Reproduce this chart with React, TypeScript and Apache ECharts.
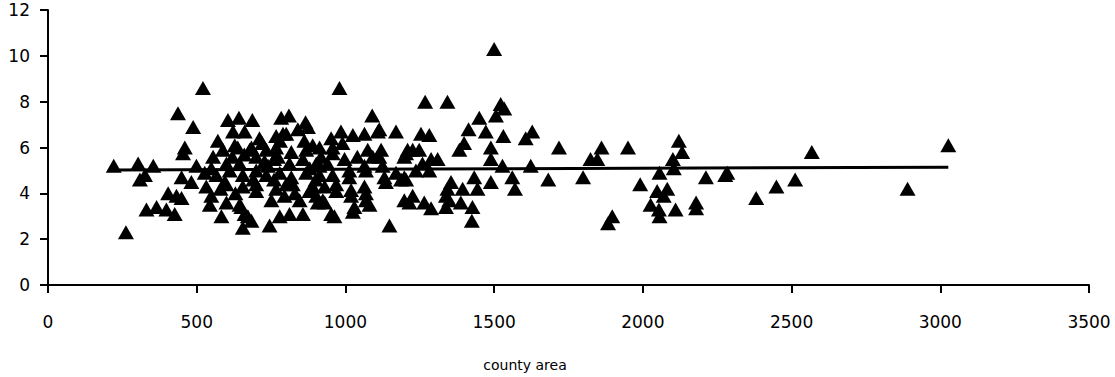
import React, { useEffect, useRef } from "react";
import * as echarts from "echarts";

// county area (x) values
const areaValues: number[] = [
  221, 262, 303, 309, 326, 354, 331, 365, 398, 426, 404, 432, 449, 437, 488, 460, 454, 449, 482, 499,
  521, 980, 605, 642, 687, 784, 810, 866, 874, 571, 622, 661, 711, 767, 801, 862, 913, 952, 985,
  555, 588, 628, 678, 734, 767, 818, 868, 918, 957, 997,
  527, 566, 611, 655, 700, 734, 779, 818, 868, 913, 957,
  532, 600, 655, 700, 767, 823, 879, 930, 969,
  549, 600, 650, 751, 795, 846, 930,
  544, 583, 661, 684, 655, 745, 779, 812, 857, 952, 963,
  638, 684, 790, 890, 549, 600, 644, 728, 773, 812, 857, 902, 594, 700, 801, 890, 644, 907, 672,
  1025, 1064, 1109, 1170, 1254, 1282, 957, 1075, 1114, 1204, 1259, 913, 1013, 1064, 1131, 1187,
  969, 1019, 1069, 902, 924, 1030, 1081, 1198, 1226, 1265, 1288, 1148,
  1090, 1114, 1092, 1120, 1198, 1226, 1013, 1069, 1125, 1170, 1204, 1064, 1136, 1019, 1069, 1215, 1025,
  1268, 1343, 1522, 1534, 1506, 1450, 1414, 1472, 1531, 1606, 1628, 1718, 1861, 1824, 1847,
  1399, 1383, 1489, 1489, 1528, 1623, 1561, 1570, 1682, 1799, 1355, 1343, 1394, 1433, 1444, 1489,
  1338, 1388, 1427, 1425, 1209, 1248, 1288, 1198, 1237, 1282, 1310, 1349, 1338, 1500,
  1950, 2121, 2132, 2101, 2104, 2056, 2212, 2277, 2284, 1991, 2048, 2082, 2070, 2026, 2054, 2056,
  2110, 2179, 2179, 1897, 1883, 2381, 2449, 2512, 2568, 2890, 3027,
  620, 660, 700, 740, 760, 720, 780, 840, 880, 940, 990, 1040, 690, 630, 830, 900, 760, 580,
];

// y values matching areaValues
const rateValues: number[] = [
  5.2, 2.3, 5.3, 4.6, 4.8, 5.2, 3.3, 3.4, 3.3, 3.1, 4.0, 3.9, 3.8, 7.5, 6.9, 6.0, 5.75, 4.7, 4.5, 5.2,
  8.6, 8.6, 7.2, 7.3, 7.2, 7.3, 7.4, 7.1, 6.9, 6.3, 6.7, 6.7, 6.4, 6.5, 6.6, 6.3, 6.0, 6.4, 6.7,
  5.6, 5.9, 6.1, 5.9, 5.9, 6.0, 5.8, 5.9, 5.6, 6.0, 5.5,
  4.9, 4.8, 5.0, 4.8, 5.0, 4.8, 4.9, 4.7, 4.9, 4.8, 4.8,
  4.3, 4.4, 4.3, 4.1, 4.2, 4.4, 4.1, 4.3, 4.1,
  3.9, 3.6, 3.4, 3.7, 3.9, 3.7, 3.6,
  3.5, 3.0, 3.1, 2.8, 2.5, 2.6, 3.0, 3.1, 3.1, 3.1, 3.0,
  6.0, 6.0, 6.6, 6.1, 5.1, 5.3, 5.3, 5.4, 5.6, 5.3, 5.5, 5.3, 4.5, 4.4, 4.4, 4.3, 3.5, 3.6, 3.0,
  6.55, 6.6, 6.7, 6.7, 6.6, 6.55, 5.75, 5.9, 5.6, 5.75, 5.3, 5.2, 5.0, 5.2, 4.7, 4.6,
  4.4, 4.15, 4.0, 3.9, 3.7, 3.4, 3.5, 3.7, 3.9, 3.6, 3.35, 2.6,
  7.4, 6.8, 5.6, 5.9, 5.6, 5.9, 4.7, 5.0, 5.2, 4.9, 4.6, 4.3, 4.5, 3.9, 3.7, 3.6, 3.2,
  8.0, 8.0, 7.9, 7.7, 7.4, 7.3, 6.8, 6.7, 6.5, 6.4, 6.7, 6.0, 6.0, 5.5, 5.5,
  6.2, 5.9, 6.0, 5.5, 5.2, 5.2, 4.7, 4.2, 4.6, 4.7, 4.5, 4.2, 4.2, 4.7, 4.2, 4.5,
  3.9, 3.6, 3.4, 2.8, 5.9, 5.9, 5.5, 4.7, 5.0, 5.0, 5.5, 3.7, 3.4, 10.3,
  6.0, 6.3, 5.8, 5.5, 5.1, 4.9, 4.7, 4.8, 4.9, 4.4, 4.1, 4.2, 3.9, 3.5, 3.3, 3.0,
  3.3, 3.6, 3.35, 3.0, 2.7, 3.8, 4.3, 4.6, 5.8, 4.2, 6.1,
  5.6, 5.7, 5.6, 5.2, 4.6, 6.2, 6.3, 6.8, 5.1, 5.3, 6.2, 5.6, 4.6, 4.0, 4.0, 4.6, 5.5, 4.2,
];

// linear trend line end points
const trendX: number[] = [221, 3027];
const trendY: number[] = [5.02, 5.14];

const xTicks = { min: 0, max: 3500, interval: 500 };
const yTicks = { min: 0, max: 12, interval: 2 };
const xAxisTitle = "county area";

export default function App() {
  const ref = useRef<HTMLDivElement>(null);
  useEffect(() => {
    if (!ref.current) return;
    const chart = echarts.init(ref.current, null, { renderer: "svg" });
    const font = "DejaVu Sans";
    const axisCommon = {
      axisLine: { show: true, onZero: false, lineStyle: { color: "#000", width: 2 } },
      axisTick: { show: true, inside: false, length: 8, lineStyle: { color: "#000", width: 2 } },
      splitLine: { show: false },
    };
    chart.setOption({
      animation: false,
      backgroundColor: "#fff",
      grid: { left: 48, right: 26, top: 10, bottom: 92, containLabel: false },
      graphic: [
        {
          type: "text",
          x: 525,
          y: 365,
          style: {
            text: xAxisTitle,
            fill: "#000",
            font: `14px "${font}"`,
            align: "center",
            verticalAlign: "middle",
          },
        },
      ],
      xAxis: {
        type: "value",
        ...xTicks,
        ...axisCommon,
        axisLabel: {
          color: "#000",
          fontFamily: font,
          fontSize: 17,
          margin: 28,
          formatter: (v: number) => String(v),
        },
      },
      yAxis: {
        type: "value",
        ...yTicks,
        ...axisCommon,
        axisLabel: {
          color: "#000",
          fontFamily: font,
          fontSize: 17,
          margin: 18,
          formatter: (v: number) => String(v),
        },
      },
      series: [
        {
          type: "scatter",
          symbol: "triangle",
          symbolSize: [16, 14],
          itemStyle: { color: "#000", opacity: 1 },
          data: areaValues.map((x, i) => [x, rateValues[i]]),
          z: 2,
        },
        {
          type: "line",
          symbol: "none",
          lineStyle: { color: "#000", width: 3 },
          data: trendX.map((x, i) => [x, trendY[i]]),
          z: 3,
        },
      ],
    });
    return () => chart.dispose();
  }, []);
  return (
    <div
      ref={ref}
      style={{ position: "fixed", left: 0, top: 0, width: 1115, height: 377 }}
    />
  );
}
